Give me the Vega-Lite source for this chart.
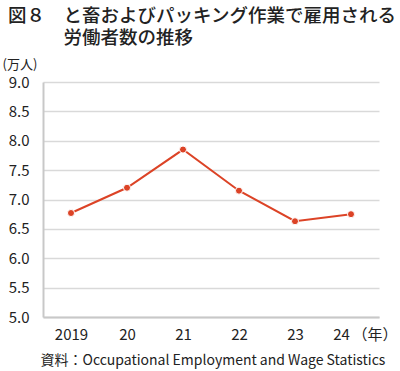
{
  "$schema": "https://vega.github.io/schema/vega-lite/v6.json",
  "width": 336,
  "height": 235,
  "autosize": {"type": "none"},
  "padding": {"left": 43, "top": 82, "right": 21, "bottom": 54},
  "background": "white",
  "config": {
    "font": "Noto Sans CJK JP",
    "view": {"stroke": null}
  },
  "title": {
    "text": ["図８　と畜およびパッキング作業で雇用される", "\u200b　　　労働者数の推移"],
    "anchor": "start",
    "frame": "group",
    "fontSize": 18.5,
    "fontWeight": 500,
    "color": "#222222",
    "lineHeight": 22,
    "dx": -35,
    "offset": 11
  },
  "data": {
    "values": [
      {"year": 2019, "value": 6.77},
      {"year": 2020, "value": 7.20},
      {"year": 2021, "value": 7.85},
      {"year": 2022, "value": 7.15},
      {"year": 2023, "value": 6.63},
      {"year": 2024, "value": 6.75}
    ]
  },
  "resolve": {"axis": {"y": "independent"}},
  "layer": [
    {
      "mark": {"type": "line", "color": "#dc4326", "strokeWidth": 2},
      "encoding": {
        "x": {
          "field": "year", "type": "ordinal",
          "scale": {"type": "point", "padding": 0.5},
          "axis": {
            "labelAngle": 0,
            "labelExpr": "datum.value == 2019 ? '2019' : substring(toString(datum.value), 2, 4)",
            "labelFontSize": 15,
            "labelColor": "#222222",
            "labelPadding": 10,
            "labelOffset": {"condition": {"test": "datum.value == 2024", "value": -10}, "value": 0},
            "ticks": false,
            "domainColor": "#c8c8c8",
            "domainWidth": 2,
            "title": "（年）",
            "titleFontSize": 15,
            "titleFontWeight": "normal",
            "titleColor": "#222222",
            "titleX": 309,
            "titleY": 17,
            "titleAlign": "left",
            "titleBaseline": "middle"
          }
        },
        "y": {
          "field": "value", "type": "quantitative",
          "scale": {"domain": [5, 9], "nice": false, "zero": false},
          "axis": {
            "values": [5, 5.5, 6, 6.5, 7, 7.5, 8, 8.5, 9],
            "format": ".1f",
            "labelFontSize": 15,
            "labelColor": "#222222",
            "labelPadding": 14,
            "ticks": false,
            "domainColor": "#c8c8c8",
            "domainWidth": 2,
            "gridColor": "#d9d9d9",
            "gridWidth": 1.5,
            "title": "(万人)",
            "titleAngle": 0,
            "titleFontSize": 13,
            "titleFontWeight": "normal",
            "titleColor": "#222222",
            "titleX": -41,
            "titleY": -18,
            "titleAlign": "left",
            "titleBaseline": "middle"
          }
        }
      }
    },
    {
      "mark": {"type": "point", "filled": true, "color": "#dc4326", "size": 50, "opacity": 1, "stroke": "white", "strokeWidth": 1},
      "encoding": {
        "x": {"field": "year", "type": "ordinal", "scale": {"type": "point", "padding": 0.5}},
        "y": {
          "field": "value", "type": "quantitative",
          "scale": {"domain": [5, 9], "nice": false, "zero": false},
          "axis": {
            "orient": "right",
            "labels": false,
            "ticks": false,
            "domain": false,
            "grid": false,
            "title": "資料：Occupational Employment and Wage Statistics",
            "titleAngle": 0,
            "titleFontSize": 14,
            "titleFontWeight": "normal",
            "titleColor": "#222222",
            "titleX": -339,
            "titleY": 278,
            "titleAlign": "left",
            "titleBaseline": "middle"
          }
        }
      }
    }
  ]
}
